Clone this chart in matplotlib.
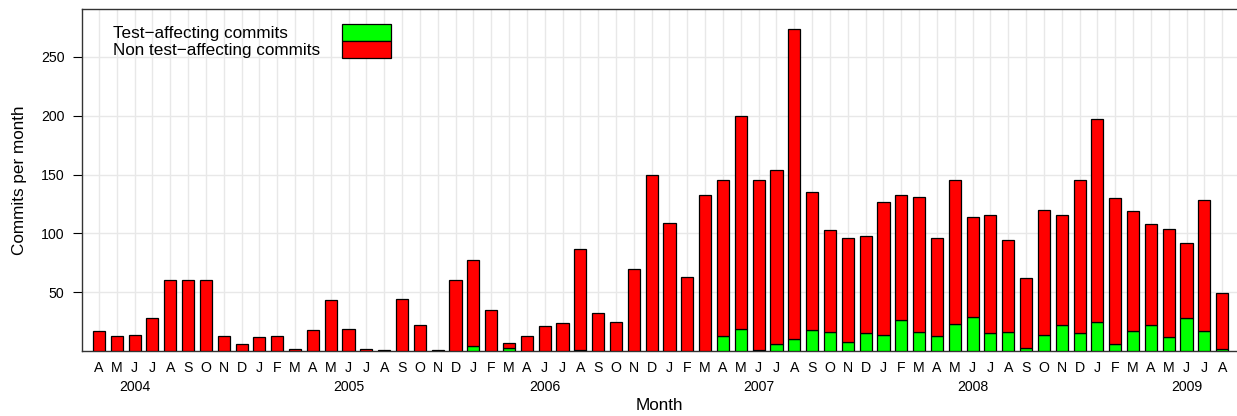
import pandas as pd
import matplotlib
matplotlib.use("Agg")
import matplotlib.pyplot as plt
from matplotlib.patches import Rectangle

plt.rcParams['font.family'] = ['Liberation Sans', 'DejaVu Sans']

# months Apr 2004 .. Aug 2009; May 2006 has no entry in the data
months = [p for p in pd.period_range('2004-04', '2009-08', freq='M')
          if str(p) != '2006-05']

total_commits = [17, 13, 14, 28, 60, 60, 60, 13, 6,
                 12, 13, 2, 18, 43, 19, 2, 1, 44, 22, 1, 60,
                 77, 35, 7, 13, 21, 24, 87, 32, 25, 70, 150,
                 109, 63, 133, 145, 200, 145, 154, 274, 135, 103, 96, 98,
                 127, 133, 131, 96, 145, 114, 116, 94, 62, 120, 116, 145,
                 197, 130, 119, 108, 104, 92, 128, 49]
test_commits = [0, 0, 0, 0, 0, 0, 0, 0, 0,
                0, 0, 0, 0, 0, 0, 0, 0, 0, 0, 0, 0,
                4, 0, 3, 0, 0, 0, 1, 0, 0, 0, 0,
                0, 0, 0, 13, 19, 1, 6, 10, 18, 16, 8, 15,
                14, 26, 16, 13, 23, 29, 15, 16, 3, 14, 22, 15,
                25, 6, 17, 22, 12, 28, 17, 2]
non_test_commits = [t - g for t, g in zip(total_commits, test_commits)]

month_letters = ['JFMAMJJASOND'[p.month - 1] for p in months]
years = ['2004', '2005', '2006', '2007', '2008', '2009']

fig = plt.figure(figsize=(12.37, 4.16), dpi=100)
ax = fig.add_axes([0.066, 0.156, 0.934, 0.822])

x = list(range(len(months)))
ax.bar(x, test_commits, width=0.68, color='#00ff00', edgecolor='black',
       linewidth=0.9, zorder=3)
ax.bar(x, non_test_commits, width=0.68, bottom=test_commits, color='#ff0000',
       edgecolor='black', linewidth=0.9, zorder=3)

ax.set_xlim(-0.97, 63.83)
ax.set_ylim(0, 290.5)

ax.set_xticks(x)
ax.set_xticklabels(month_letters, fontsize=10.2)
ax.tick_params(axis='x', length=0, pad=7)
ax.set_yticks([50, 100, 150, 200, 250])
ax.tick_params(axis='y', length=6.5, width=0.8, labelsize=10.2, pad=6)

ax.grid(True, color='#e8e8e8', linewidth=1.0, zorder=0)
ax.set_axisbelow(True)

for s in ['left', 'top', 'bottom']:
    ax.spines[s].set_color('#333333')
    ax.spines[s].set_linewidth(1.0)
ax.spines['right'].set_visible(False)

# year labels under the June of each year
for yr in years:
    i = [str(p) for p in months].index(yr + '-06')
    ax.annotate(yr, xy=(i, 0), xycoords=('data', 'axes fraction'),
                xytext=(0, -20.5), textcoords='offset points',
                ha='center', va='top', fontsize=10.2)

ax.set_xlabel('Month', fontsize=12.3, labelpad=17)
ax.set_ylabel('Commits per month', fontsize=12.3, labelpad=10)

# legend, drawn by hand: labels left, colour boxes to the right
ax.text(0.0271, 0.930, 'Test\u2212affecting commits', transform=ax.transAxes,
        fontsize=12.3, va='center', ha='left')
ax.text(0.0271, 0.880, 'Non test\u2212affecting commits', transform=ax.transAxes,
        fontsize=12.3, va='center', ha='left')
ax.add_patch(Rectangle((0.2253, 0.906), 0.0425, 0.050, transform=ax.transAxes,
                       facecolor='#00ff00', edgecolor='black', linewidth=0.9,
                       zorder=5))
ax.add_patch(Rectangle((0.2253, 0.857), 0.0425, 0.049, transform=ax.transAxes,
                       facecolor='#ff0000', edgecolor='black', linewidth=0.9,
                       zorder=5))

fig.savefig('out.png', dpi=100)
